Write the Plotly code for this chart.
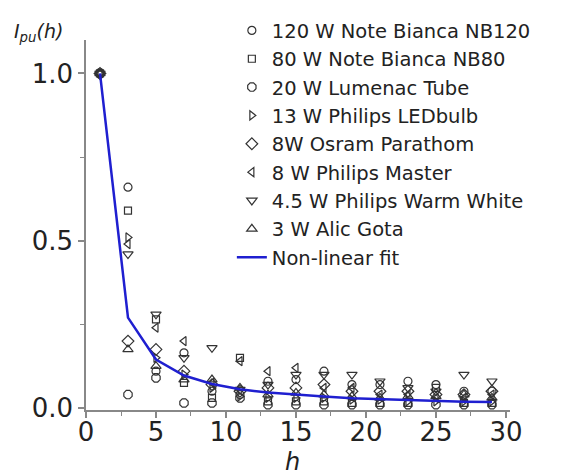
import plotly.graph_objects as go

h = [1, 3, 5, 7, 9, 11, 13, 15, 17, 19, 21, 23, 25, 27, 29]

nb120   = [1.0, 0.66, 0.11, 0.165, 0.05, 0.04, 0.08, 0.085, 0.11, 0.07, 0.07, 0.08, 0.07, 0.05, 0.05]
nb80    = [1.0, 0.59, 0.265, 0.075, 0.03, 0.15, 0.02, 0.02, 0.02, 0.015, 0.015, 0.015, 0.06, 0.015, 0.015]
lumenac = [1.0, 0.04, 0.09, 0.015, 0.015, 0.03, 0.01, 0.01, 0.01, 0.01, 0.01, 0.01, 0.01, 0.01, 0.01]
led13   = [1.0, 0.51, 0.15, 0.10, 0.06, 0.035, 0.03, 0.03, 0.03, 0.025, 0.025, 0.02, 0.02, 0.02, 0.02]
osram8  = [1.0, 0.20, 0.175, 0.11, 0.07, 0.05, 0.06, 0.06, 0.07, 0.05, 0.05, 0.05, 0.04, 0.04, 0.05]
master8 = [1.0, 0.49, 0.24, 0.20, 0.075, 0.14, 0.11, 0.12, 0.06, 0.06, 0.04, 0.04, 0.03, 0.03, 0.04]
warm45  = [1.0, 0.46, 0.28, 0.15, 0.18, 0.055, 0.07, 0.10, 0.10, 0.10, 0.08, 0.06, 0.05, 0.10, 0.08]
alic3   = [1.0, 0.175, 0.125, 0.085, 0.085, 0.06, 0.04, 0.045, 0.04, 0.035, 0.03, 0.035, 0.035, 0.04, 0.03]

fit = [1.0, 0.27, 0.145, 0.097, 0.072, 0.056, 0.046, 0.039, 0.034, 0.029, 0.026, 0.023, 0.021, 0.019, 0.018]

series = [
    ("120 W Note Bianca NB120", nb120, "circle-open", 8),
    ("80 W Note Bianca NB80", nb80, "square-open", 7),
    ("20 W Lumenac Tube", lumenac, "octagon-open", 9),
    ("13 W Philips LEDbulb", led13, "triangle-right-open", 8),
    ("8W Osram Parathom", osram8, "diamond-open", 9),
    ("8 W Philips Master", master8, "triangle-left-open", 8),
    ("4.5 W Philips Warm White", warm45, "triangle-down-open", 9),
    ("3 W Alic Gota", alic3, "triangle-up-open", 9),
]

FONT = "DejaVu Sans, Liberation Sans, Arial"
TXT = "#222222"

fig = go.Figure()
for i, (name, vals, sym, sz) in enumerate(series):
    fig.add_trace(go.Scatter(
        x=h, y=vals, mode="markers", name=name, legendgroup=f"g{i}",
        marker=dict(symbol=sym, size=sz, color="#333333", line=dict(width=1.2, color="#333333")),
    ))

fig.add_trace(go.Scatter(
    x=h, y=fit, mode="lines", name="Non-linear fit", legendgroup="fit",
    line=dict(color="#1f1fd0", width=2.5),
))

axis_common = dict(
    showline=True, linecolor="#888888", linewidth=1.5, mirror=False,
    ticks="outside", ticklen=6, tickwidth=1.5, tickcolor="#888888",
    showgrid=False, zeroline=False, automargin=False,
    tickfont=dict(family=FONT, size=26, color=TXT),
)

fig.update_xaxes(range=[0, 30.29], dtick=5, tick0=0, ticklabelstandoff=-8,
                 minor=dict(ticks="outside", dtick=2.5, tick0=0, ticklen=4, tickcolor="#888888", tickwidth=1.2),
                 **axis_common)
fig.update_yaxes(range=[-0.006, 1.1], dtick=0.5, tick0=0, tickformat=".1f", domain=[0, 0.925],
                 minor=dict(ticks="outside", dtick=0.25, tick0=0, ticklen=4, tickcolor="#888888", tickwidth=1.2),
                 **axis_common)

fig.add_annotation(
    text="<i>I</i><sub><i>pu</i></sub><i>(h)</i>", xref="paper", yref="paper",
    x=-0.175, y=0.945, xanchor="left", yanchor="middle", showarrow=False,
    font=dict(family=FONT, size=19, color=TXT),
)
fig.add_annotation(
    text="<i>h</i>", xref="paper", yref="paper",
    x=0.488, y=-0.17, xanchor="center", yanchor="bottom", showarrow=False,
    font=dict(family=FONT, size=24, color=TXT),
)

fig.update_layout(
    width=570, height=475,
    margin=dict(l=78, r=68, t=2, b=73),
    paper_bgcolor="white", plot_bgcolor="white",
    showlegend=True,
    legend=dict(
        x=0.344, y=0.997, xanchor="left", yanchor="top",
        font=dict(family=FONT, size=19.5, color=TXT),
        bgcolor="rgba(0,0,0,0)", tracegroupgap=0, itemwidth=30,
    ),
)

fig.write_html("out.html")
